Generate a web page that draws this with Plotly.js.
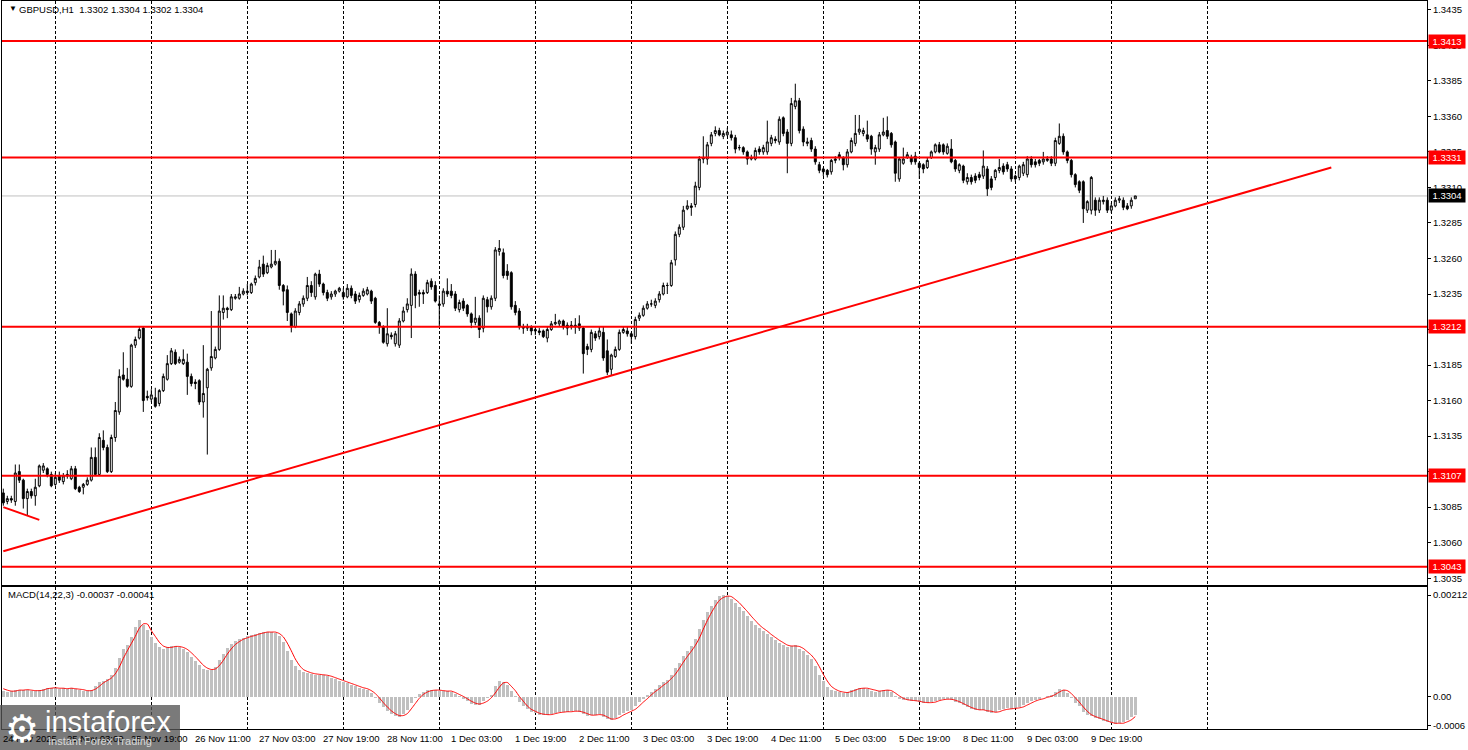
<!DOCTYPE html>
<html><head><meta charset="utf-8">
<script src="https://cdn.plot.ly/plotly-3.0.1.min.js"></script>
<style>html,body{margin:0;padding:0;background:#fff;overflow:hidden}#chart{width:1468px;height:750px}</style>
</head><body><div id="chart"></div>
<script>
const symbolName = "GBPUSD,H1";
const open = [
1.3095,1.3089,1.3091,1.3089,1.3110,1.3104,1.3091,1.3096,1.3093,1.3100,
1.3111,1.3112,1.3108,1.3101,1.3107,1.3103,1.3107,1.3105,1.3112,1.3099,
1.3099,1.3101,1.3104,1.3120,1.3108,1.3132,1.3127,1.3110,1.3134,1.3152,
1.3178,1.3175,1.3170,1.3199,1.3204,1.3211,1.3163,1.3161,1.3162,1.3158,
1.3167,1.3175,1.3186,1.3194,1.3187,1.3186,1.3187,1.3177,1.3173,1.3174,
1.3159,1.3169,1.3183,1.3190,1.3196,1.3222,1.3225,1.3224,1.3232,1.3232,
1.3235,1.3237,1.3236,1.3243,1.3247,1.3256,1.3250,1.3254,1.3256,1.3258,
1.3241,1.3238,1.3221,1.3212,1.3222,1.3228,1.3232,1.3241,1.3233,1.3249,
1.3242,1.3236,1.3233,1.3235,1.3237,1.3236,1.3233,1.3239,1.3235,1.3231,
1.3234,1.3235,1.3237,1.3232,1.3215,1.3212,1.3200,1.3206,1.3200,1.3199,
1.3216,1.3224,1.3227,1.3249,1.3236,1.3236,1.3236,1.3244,1.3241,1.3228,
1.3228,1.3237,1.3237,1.3235,1.3224,1.3230,1.3227,1.3221,1.3215,1.3218,
1.3211,1.3231,1.3226,1.3232,1.3265,1.3264,1.3251,1.3250,1.3227,1.3223,
1.3212,1.3211,1.3212,1.3210,1.3209,1.3209,1.3204,1.3210,1.3214,1.3214,
1.3216,1.3213,1.3213,1.3212,1.3214,1.3211,1.3198,1.3196,1.3207,1.3205,
1.3208,1.3195,1.3182,1.3191,1.3196,1.3208,1.3209,1.3207,1.3205,1.3218,
1.3220,1.3225,1.3228,1.3227,1.3231,1.3235,1.3241,1.3241,1.3259,1.3277,
1.3282,1.3295,1.3297,1.3298,1.3310,1.3330,1.3330,1.3341,1.3348,1.3350,
1.3346,1.3347,1.3347,1.3345,1.3338,1.3338,1.3335,1.3330,1.3330,1.3337,
1.3335,1.3335,1.3341,1.3344,1.3342,1.3359,1.3349,1.3341,1.3367,1.3371,
1.3351,1.3341,1.3343,1.3337,1.3326,1.3323,1.3322,1.3321,1.3329,1.3333,
1.3331,1.3326,1.3335,1.3341,1.3349,1.3348,1.3347,1.3346,1.3335,1.3337,
1.3347,1.3350,1.3348,1.3342,1.3316,1.3327,1.3331,1.3331,1.3332,1.3327,
1.3326,1.3324,1.3331,1.3335,1.3340,1.3340,1.3334,1.3337,1.3329,1.3322,
1.3325,1.3314,1.3317,1.3318,1.3319,1.3318,1.3323,1.3316,1.3317,1.3322,
1.3325,1.3326,1.3323,1.3318,1.3317,1.3320,1.3319,1.3330,1.3328,1.3329,
1.3328,1.3329,1.3330,1.3327,1.3341,1.3346,1.3335,1.3329,1.3319,1.3314,
1.3314,1.3294,1.3294,1.3301,1.3294,1.3300,1.3301,1.3294,1.3297,1.3301,
1.3301,1.3297,1.3297,1.3302];
const high = [
1.3098,1.3093,1.3093,1.3115,1.3115,1.3105,1.3098,1.3098,1.3105,1.3115,
1.3116,1.3113,1.3110,1.3109,1.3110,1.3109,1.3111,1.3114,1.3114,1.3100,
1.3102,1.3106,1.3127,1.3127,1.3137,1.3139,1.3129,1.3136,1.3159,1.3182,
1.3194,1.3183,1.3200,1.3205,1.3212,1.3212,1.3167,1.3168,1.3169,1.3168,
1.3179,1.3192,1.3197,1.3196,1.3191,1.3196,1.3193,1.3179,1.3175,1.3175,
1.3199,1.3183,1.3223,1.3198,1.3234,1.3234,1.3226,1.3235,1.3235,1.3240,
1.3239,1.3242,1.3243,1.3248,1.3259,1.3262,1.3257,1.3266,1.3266,1.3260,
1.3242,1.3241,1.3222,1.3225,1.3230,1.3234,1.3247,1.3244,1.3250,1.3252,
1.3243,1.3238,1.3237,1.3238,1.3240,1.3239,1.3242,1.3241,1.3237,1.3236,
1.3239,1.3240,1.3238,1.3233,1.3216,1.3213,1.3225,1.3208,1.3209,1.3218,
1.3226,1.3232,1.3253,1.3251,1.3238,1.3238,1.3245,1.3246,1.3244,1.3234,
1.3239,1.3246,1.3242,1.3237,1.3231,1.3232,1.3228,1.3222,1.3233,1.3220,
1.3234,1.3233,1.3234,1.3268,1.3273,1.3267,1.3256,1.3251,1.3230,1.3225,
1.3214,1.3214,1.3213,1.3212,1.3211,1.3210,1.3212,1.3216,1.3221,1.3217,
1.3217,1.3215,1.3216,1.3218,1.3220,1.3212,1.3200,1.3210,1.3209,1.3212,
1.3212,1.3203,1.3193,1.3198,1.3210,1.3212,1.3212,1.3208,1.3219,1.3222,
1.3227,1.3230,1.3231,1.3232,1.3237,1.3243,1.3243,1.3259,1.3279,1.3284,
1.3297,1.3301,1.3299,1.3314,1.3332,1.3346,1.3342,1.3349,1.3353,1.3352,
1.3350,1.3352,1.3350,1.3347,1.3340,1.3339,1.3336,1.3333,1.3338,1.3339,
1.3340,1.3357,1.3347,1.3346,1.3360,1.3360,1.3351,1.3373,1.3383,1.3373,
1.3353,1.3345,1.3345,1.3339,1.3328,1.3324,1.3323,1.3330,1.3332,1.3335,
1.3332,1.3337,1.3345,1.3361,1.3361,1.3352,1.3357,1.3347,1.3340,1.3349,
1.3359,1.3360,1.3349,1.3343,1.3331,1.3338,1.3335,1.3333,1.3335,1.3328,
1.3327,1.3331,1.3336,1.3341,1.3342,1.3341,1.3341,1.3344,1.3330,1.3327,
1.3326,1.3320,1.3319,1.3320,1.3321,1.3336,1.3325,1.3318,1.3323,1.3330,
1.3327,1.3328,1.3325,1.3319,1.3326,1.3328,1.3332,1.3332,1.3330,1.3330,
1.3335,1.3332,1.3332,1.3345,1.3355,1.3348,1.3336,1.3330,1.3320,1.3315,
1.3315,1.3301,1.3318,1.3303,1.3303,1.3304,1.3303,1.3299,1.3303,1.3304,
1.3303,1.3299,1.3303,1.3304];
const low = [
1.3086,1.3087,1.3088,1.3086,1.3102,1.3084,1.3079,1.3091,1.3086,1.3099,
1.3109,1.3106,1.3099,1.3100,1.3102,1.3101,1.3105,1.3104,1.3097,1.3095,
1.3094,1.3100,1.3103,1.3107,1.3107,1.3125,1.3109,1.3109,1.3131,1.3150,
1.3174,1.3169,1.3169,1.3197,1.3203,1.3152,1.3160,1.3159,1.3155,1.3156,
1.3166,1.3174,1.3185,1.3185,1.3186,1.3185,1.3164,1.3170,1.3168,1.3157,
1.3148,1.3122,1.3181,1.3189,1.3195,1.3217,1.3218,1.3223,1.3231,1.3231,
1.3234,1.3234,1.3235,1.3241,1.3246,1.3247,1.3249,1.3253,1.3255,1.3238,
1.3227,1.3216,1.3208,1.3211,1.3220,1.3226,1.3230,1.3233,1.3231,1.3240,
1.3234,1.3230,1.3231,1.3233,1.3236,1.3231,1.3232,1.3232,1.3228,1.3229,
1.3233,1.3234,1.3228,1.3214,1.3207,1.3200,1.3198,1.3203,1.3198,1.3197,
1.3215,1.3222,1.3204,1.3225,1.3226,1.3228,1.3235,1.3238,1.3229,1.3212,
1.3226,1.3233,1.3232,1.3223,1.3222,1.3223,1.3219,1.3211,1.3213,1.3204,
1.3208,1.3222,1.3224,1.3230,1.3262,1.3246,1.3245,1.3224,1.3220,1.3210,
1.3207,1.3209,1.3206,1.3206,1.3206,1.3204,1.3201,1.3209,1.3213,1.3212,
1.3210,1.3206,1.3210,1.3207,1.3209,1.3179,1.3192,1.3194,1.3202,1.3203,
1.3188,1.3178,1.3178,1.3190,1.3195,1.3207,1.3205,1.3200,1.3203,1.3216,
1.3219,1.3224,1.3226,1.3225,1.3229,1.3234,1.3235,1.3240,1.3255,1.3275,
1.3280,1.3294,1.3290,1.3296,1.3308,1.3327,1.3326,1.3339,1.3346,1.3346,
1.3344,1.3346,1.3343,1.3334,1.3336,1.3333,1.3326,1.3329,1.3329,1.3333,
1.3333,1.3333,1.3339,1.3341,1.3340,1.3346,1.3320,1.3339,1.3365,1.3348,
1.3339,1.3339,1.3335,1.3326,1.3320,1.3318,1.3317,1.3319,1.3327,1.3329,
1.3322,1.3324,1.3334,1.3339,1.3347,1.3346,1.3342,1.3333,1.3326,1.3335,
1.3346,1.3344,1.3338,1.3314,1.3314,1.3326,1.3330,1.3326,1.3326,1.3316,
1.3320,1.3323,1.3330,1.3334,1.3334,1.3333,1.3333,1.3327,1.3321,1.3320,
1.3313,1.3312,1.3312,1.3313,1.3315,1.3316,1.3304,1.3308,1.3315,1.3320,
1.3319,1.3321,1.3314,1.3314,1.3315,1.3318,1.3317,1.3324,1.3324,1.3325,
1.3326,1.3328,1.3325,1.3325,1.3340,1.3333,1.3327,1.3317,1.3310,1.3306,
1.3285,1.3292,1.3291,1.3290,1.3292,1.3298,1.3292,1.3292,1.3296,1.3299,
1.3294,1.3294,1.3295,1.3302];
const close = [
1.3088,1.3091,1.3090,1.3109,1.3104,1.3091,1.3096,1.3093,1.3099,1.3114,
1.3114,1.3108,1.3100,1.3106,1.3104,1.3107,1.3108,1.3112,1.3098,1.3096,
1.3101,1.3104,1.3120,1.3108,1.3134,1.3127,1.3110,1.3134,1.3153,1.3177,
1.3175,1.3170,1.3199,1.3203,1.3210,1.3160,1.3162,1.3164,1.3156,1.3167,
1.3177,1.3186,1.3195,1.3186,1.3189,1.3189,1.3177,1.3172,1.3172,1.3159,
1.3165,1.3182,1.3191,1.3196,1.3223,1.3225,1.3224,1.3233,1.3233,1.3235,
1.3237,1.3236,1.3242,1.3246,1.3254,1.3249,1.3255,1.3256,1.3258,1.3241,
1.3237,1.3222,1.3212,1.3223,1.3228,1.3232,1.3241,1.3236,1.3249,1.3242,
1.3236,1.3232,1.3235,1.3237,1.3239,1.3233,1.3239,1.3234,1.3230,1.3234,
1.3237,1.3238,1.3230,1.3215,1.3212,1.3201,1.3207,1.3205,1.3207,1.3216,
1.3223,1.3228,1.3249,1.3234,1.3235,1.3235,1.3243,1.3240,1.3230,1.3227,
1.3237,1.3235,1.3234,1.3225,1.3229,1.3225,1.3221,1.3215,1.3218,1.3210,
1.3232,1.3226,1.3232,1.3266,1.3267,1.3248,1.3248,1.3226,1.3222,1.3212,
1.3211,1.3212,1.3209,1.3209,1.3208,1.3205,1.3210,1.3214,1.3215,1.3216,
1.3212,1.3211,1.3212,1.3213,1.3211,1.3193,1.3196,1.3208,1.3204,1.3209,
1.3190,1.3180,1.3192,1.3196,1.3208,1.3210,1.3207,1.3205,1.3217,1.3220,
1.3225,1.3228,1.3228,1.3230,1.3235,1.3241,1.3241,1.3257,1.3277,1.3282,
1.3294,1.3297,1.3296,1.3311,1.3330,1.3331,1.3340,1.3347,1.3350,1.3347,
1.3348,1.3349,1.3345,1.3337,1.3338,1.3335,1.3330,1.3331,1.3336,1.3335,
1.3338,1.3342,1.3345,1.3343,1.3358,1.3348,1.3341,1.3369,1.3371,1.3350,
1.3342,1.3342,1.3337,1.3328,1.3322,1.3321,1.3319,1.3329,1.3330,1.3331,
1.3326,1.3335,1.3343,1.3348,1.3351,1.3350,1.3344,1.3337,1.3338,1.3347,
1.3349,1.3346,1.3340,1.3320,1.3330,1.3330,1.3333,1.3328,1.3328,1.3324,
1.3323,1.3329,1.3335,1.3340,1.3335,1.3335,1.3339,1.3328,1.3323,1.3326,
1.3315,1.3317,1.3314,1.3315,1.3317,1.3325,1.3309,1.3310,1.3322,1.3324,
1.3321,1.3323,1.3316,1.3316,1.3325,1.3326,1.3330,1.3326,1.3326,1.3327,
1.3330,1.3330,1.3327,1.3343,1.3346,1.3335,1.3329,1.3319,1.3312,1.3308,
1.3295,1.3300,1.3317,1.3294,1.3301,1.3301,1.3294,1.3297,1.3301,1.3302,
1.3296,1.3295,1.3301,1.3304];
const macdHist = [
0.00012,0.00010,0.00012,0.00014,0.00015,0.00014,0.00015,0.00013,0.00012,0.00014,
0.00017,0.00019,0.00019,0.00018,0.00017,0.00018,0.00017,0.00018,0.00016,0.00015,
0.00013,0.00012,0.00015,0.00022,0.00030,0.00034,0.00038,0.00045,0.00060,0.00080,
0.00099,0.00108,0.00125,0.00145,0.00160,0.00150,0.00140,0.00125,0.00113,0.00104,
0.00100,0.00104,0.00106,0.00106,0.00104,0.00100,0.00093,0.00084,0.00074,0.00066,
0.00059,0.00055,0.00056,0.00062,0.00076,0.00090,0.00101,0.00110,0.00116,0.00120,
0.00123,0.00126,0.00128,0.00131,0.00134,0.00135,0.00136,0.00135,0.00133,0.00127,
0.00115,0.00095,0.00077,0.00064,0.00056,0.00052,0.00050,0.00048,0.00046,0.00046,
0.00045,0.00043,0.00040,0.00037,0.00034,0.00031,0.00028,0.00025,0.00022,0.00019,
0.00017,0.00014,0.00008,-0.00002,-0.00012,-0.00022,-0.00030,-0.00036,-0.00040,-0.00041,
-0.00036,-0.00028,-0.00012,-0.00002,0.00006,0.00010,0.00014,0.00015,0.00014,0.00012,
0.00013,0.00012,0.00010,0.00005,0.00001,-0.00004,-0.00008,-0.00014,-0.00016,-0.00016,
-0.00008,-0.00002,0.00004,0.00022,0.00034,0.00030,0.00025,0.00012,0.00002,-0.00010,
-0.00020,-0.00026,-0.00031,-0.00034,-0.00037,-0.00038,-0.00037,-0.00035,-0.00033,-0.00031,
-0.00031,-0.00031,-0.00030,-0.00030,-0.00031,-0.00036,-0.00039,-0.00038,-0.00037,-0.00036,
-0.00042,-0.00047,-0.00048,-0.00044,-0.00038,-0.00033,-0.00030,-0.00028,-0.00019,-0.00011,
-0.00004,0.00004,0.00011,0.00017,0.00024,0.00031,0.00036,0.00046,0.00060,0.00071,
0.00085,0.00096,0.00105,0.00120,0.00142,0.00160,0.00176,0.00190,0.00202,0.00210,
0.00212,0.00210,0.00204,0.00196,0.00187,0.00178,0.00168,0.00158,0.00150,0.00143,
0.00137,0.00130,0.00124,0.00118,0.00112,0.00109,0.00104,0.00106,0.00108,0.00100,
0.00095,0.00088,0.00078,0.00064,0.00046,0.00032,0.00020,0.00015,0.00012,0.00010,
0.00008,0.00010,0.00014,0.00017,0.00019,0.00019,0.00017,0.00013,0.00011,0.00013,
0.00015,0.00014,0.00010,0.00001,-0.00004,-0.00006,-0.00007,-0.00008,-0.00009,-0.00011,
-0.00013,-0.00013,-0.00011,-0.00008,-0.00006,-0.00005,-0.00004,-0.00006,-0.00010,-0.00013,
-0.00018,-0.00022,-0.00025,-0.00027,-0.00028,-0.00027,-0.00031,-0.00033,-0.00031,-0.00028,
-0.00026,-0.00024,-0.00025,-0.00024,-0.00021,-0.00017,-0.00012,-0.00009,-0.00006,-0.00004,
-0.00001,0.00002,0.00003,0.00010,0.00017,0.00014,0.00008,-0.00002,-0.00012,-0.00020,
-0.00032,-0.00038,-0.00040,-0.00044,-0.00047,-0.00050,-0.00053,-0.00055,-0.00056,-0.00055,
-0.00053,-0.00049,-0.00042,-0.00037];
const macdSignal = [
0.00017,0.00014,0.00012,0.00012,0.00014,0.00014,0.00015,0.00014,0.00013,0.00013,
0.00014,0.00017,0.00018,0.00019,0.00018,0.00018,0.00017,0.00018,0.00017,0.00016,
0.00015,0.00013,0.00013,0.00016,0.00022,0.00029,0.00034,0.00039,0.00048,0.00062,
0.00080,0.00096,0.00111,0.00126,0.00143,0.00152,0.00152,0.00138,0.00126,0.00114,
0.00106,0.00103,0.00103,0.00105,0.00105,0.00103,0.00099,0.00092,0.00084,0.00075,
0.00066,0.00060,0.00057,0.00058,0.00065,0.00076,0.00089,0.00100,0.00109,0.00115,
0.00120,0.00123,0.00126,0.00128,0.00131,0.00133,0.00135,0.00135,0.00135,0.00132,
0.00125,0.00112,0.00096,0.00079,0.00066,0.00057,0.00053,0.00050,0.00048,0.00047,
0.00046,0.00045,0.00043,0.00040,0.00037,0.00034,0.00031,0.00028,0.00025,0.00022,
0.00019,0.00017,0.00013,0.00007,-0.00002,-0.00012,-0.00021,-0.00029,-0.00035,-0.00039,
-0.00039,-0.00035,-0.00025,-0.00014,-0.00003,0.00005,0.00010,0.00013,0.00014,0.00014,
0.00013,0.00012,0.00012,0.00009,0.00005,0.00001,-0.00004,-0.00009,-0.00013,-0.00015,
-0.00013,-0.00009,-0.00002,0.00008,0.00020,0.00029,0.00030,0.00022,0.00013,0.00001,
-0.00009,-0.00019,-0.00026,-0.00030,-0.00034,-0.00036,-0.00037,-0.00037,-0.00035,-0.00033,
-0.00032,-0.00031,-0.00031,-0.00030,-0.00030,-0.00032,-0.00035,-0.00038,-0.00038,-0.00037,
-0.00038,-0.00042,-0.00046,-0.00046,-0.00043,-0.00038,-0.00034,-0.00030,-0.00026,-0.00019,
-0.00011,-0.00004,0.00004,0.00011,0.00017,0.00024,0.00030,0.00038,0.00047,0.00059,
0.00072,0.00084,0.00095,0.00107,0.00122,0.00141,0.00159,0.00175,0.00189,0.00201,
0.00207,0.00210,0.00209,0.00203,0.00196,0.00187,0.00178,0.00168,0.00159,0.00150,
0.00143,0.00137,0.00130,0.00124,0.00118,0.00113,0.00108,0.00106,0.00106,0.00105,
0.00101,0.00094,0.00087,0.00077,0.00063,0.00047,0.00033,0.00022,0.00016,0.00012,
0.00010,0.00009,0.00011,0.00014,0.00017,0.00018,0.00018,0.00016,0.00014,0.00012,
0.00013,0.00014,0.00013,0.00008,0.00002,-0.00003,-0.00006,-0.00007,-0.00008,-0.00009,
-0.00011,-0.00012,-0.00012,-0.00011,-0.00008,-0.00006,-0.00005,-0.00005,-0.00007,-0.00010,
-0.00014,-0.00018,-0.00022,-0.00025,-0.00027,-0.00027,-0.00029,-0.00030,-0.00032,-0.00031,
-0.00028,-0.00026,-0.00025,-0.00024,-0.00023,-0.00021,-0.00017,-0.00013,-0.00009,-0.00006,
-0.00004,-0.00001,0.00001,0.00005,0.00010,0.00014,0.00013,0.00007,-0.00002,-0.00011,
-0.00021,-0.00030,-0.00037,-0.00041,-0.00044,-0.00047,-0.00050,-0.00053,-0.00055,-0.00055,
-0.00055,-0.00052,-0.00048,-0.00041];
const levels = [1.3413, 1.3331, 1.3212, 1.3107, 1.3043];
const lastPrice = 1.3304;
const trendX = [0, 332];
const trendY = [1.3054, 1.3324];
const wedgeX = [0, 9];
const wedgeY = [1.3085, 1.3076];
const timeLabelBars = [0,16,32,48,64,80,96,112,128,144,160,176,192,208,224,240,256,272];
const timeLabels = ["24 Nov 2025","25 Nov 03:00","25 Nov 19:00","26 Nov 11:00","27 Nov 03:00","27 Nov 19:00","28 Nov 11:00","1 Dec 03:00","1 Dec 19:00","2 Dec 11:00","3 Dec 03:00","3 Dec 19:00","4 Dec 11:00","5 Dec 03:00","5 Dec 19:00","8 Dec 11:00","9 Dec 03:00","9 Dec 19:00"];
const gridBars = [13,37,61,85,109,133,157,181,205,229,253,277,301];
const priceTicks = [1.3035,1.3060,1.3085,1.3110,1.3135,1.3160,1.3185,1.3210,1.3235,1.3260,1.3285,1.3310,1.3335,1.3360,1.3385,1.3410,1.3435];
const macdTicks = [0.00212, 0, -0.0006];
const macdTickText = ["0.00212", "0.00", "-0.0006"];

const bars = close.map((_, i) => i);
const n = close.length - 1;
const FONT = "Liberation Sans, Arial, sans-serif";
const FS = 9.5;

const xRange = [-0.325, 355.925];
const baseX = {
  range: xRange, showticklabels: false, ticks: "", tickmode: "array", tickvals: gridBars,
  showgrid: true, gridcolor: "#000", gridwidth: 1, griddash: "3px,2px",
  showline: true, mirror: true, linecolor: "#000", linewidth: 1, zeroline: false,
  fixedrange: true
};

const traces = [
  {type: "candlestick", x: bars, open: open, high: high, low: low, close: close,
   xaxis: "x", yaxis: "y", whiskerwidth: 0, hoverinfo: "skip",
   increasing: {line: {color: "#000", width: 1}, fillcolor: "#ffffff"},
   decreasing: {line: {color: "#000", width: 1}, fillcolor: "#000000"}},
  {type: "scatter", mode: "lines", x: trendX, y: trendY, xaxis: "x", yaxis: "y",
   line: {color: "#ff0000", width: 2}, hoverinfo: "skip"},
  {type: "scatter", mode: "lines", x: wedgeX, y: wedgeY, xaxis: "x", yaxis: "y",
   line: {color: "#ff0000", width: 2}, hoverinfo: "skip"},
  {type: "bar", x: bars, y: macdHist, xaxis: "x2", yaxis: "y2", width: 0.75,
   marker: {color: "#c0c0c0", line: {width: 0}}, hoverinfo: "skip"},
  {type: "scatter", mode: "lines", x: bars, y: macdSignal, xaxis: "x2", yaxis: "y2",
   line: {color: "#ff0000", width: 1, shape: "spline", smoothing: 0.6}, hoverinfo: "skip"}
];

const shapes = [];
shapes.push({type: "line", xref: "paper", x0: 0, x1: 1, yref: "y", y0: lastPrice, y1: lastPrice,
  line: {color: "#c0c0c0", width: 1}, layer: "below"});
levels.forEach(v => shapes.push({type: "line", xref: "paper", x0: 0, x1: 1, yref: "y", y0: v, y1: v,
  line: {color: "#ff0000", width: 2}}));
shapes.push({type: "rect", xref: "paper", yref: "paper", x0: -0.0014, x1: 0.1249, y0: -0.0288, y1: 0.033,
  fillcolor: "rgba(85,85,85,0.78)", line: {width: 0}, layer: "above"});

const annotations = [];
levels.forEach(v => annotations.push({xref: "paper", x: 1, xanchor: "left", xshift: 1, yref: "y", y: v,
  yanchor: "middle", text: v.toFixed(4), showarrow: false, bgcolor: "#ff0000", width: 34, height: 11,
  borderpad: 1, font: {family: FONT, size: FS, color: "#ffffff"}}));
annotations.push({xref: "paper", x: 1, xanchor: "left", xshift: 1, yref: "y", y: lastPrice,
  yanchor: "middle", text: lastPrice.toFixed(4), showarrow: false, bgcolor: "#000000", width: 34, height: 11,
  borderpad: 1, font: {family: FONT, size: FS, color: "#ffffff"}});
timeLabelBars.forEach((b, k) => annotations.push({xref: "x2", x: b, xanchor: "left", xshift: -2,
  yref: "paper", y: 0, yanchor: "top", yshift: -2, text: timeLabels[k], showarrow: false,
  font: {family: FONT, size: FS, color: "#000"}}));
annotations.push({xref: "paper", yref: "paper", x: 0.0035, y: 0.9985, xanchor: "left", yanchor: "top",
  text: "\u25BC", showarrow: false, font: {family: FONT, size: 8, color: "#000"}});
annotations.push({xref: "paper", yref: "paper", x: 0.0105, y: 0.9985, xanchor: "left", yanchor: "top",
  text: symbolName + "\u00a0\u00a0" + [open[n], high[n], low[n], close[n]].map(v => v.toFixed(4)).join(" "),
  showarrow: false, font: {family: FONT, size: FS, color: "#000"}});
annotations.push({xref: "paper", yref: "paper", x: 0.003, y: 0.1945, xanchor: "left", yanchor: "top",
  text: "MACD(14,22,3) " + macdHist[n].toFixed(5) + " " + macdSignal[n].toFixed(5),
  showarrow: false, font: {family: FONT, size: FS, color: "#000"}});
annotations.push({xref: "paper", yref: "paper", x: 0.0008, y: 0.033, xanchor: "left", yanchor: "top",
  text: "\u2699", showarrow: false, font: {family: "DejaVu Sans", size: 38, color: "#ffffff"}});
annotations.push({xref: "paper", yref: "paper", x: 0.029, y: 0.034, xanchor: "left", yanchor: "top",
  text: "instaforex", showarrow: false, font: {family: FONT, size: 29, color: "#ffffff"}});
annotations.push({xref: "paper", yref: "paper", x: 0.031, y: -0.005, xanchor: "left", yanchor: "top",
  text: "Instant Forex Trading", showarrow: false, font: {family: FONT, size: 11, color: "#d8d8d8"}});

const yCommon = {side: "right", tickmode: "array", ticks: "outside", ticklen: 3, tickcolor: "#000",
  tickfont: {family: FONT, size: FS, color: "#000"}, showgrid: false, showline: true, mirror: true,
  linecolor: "#000", zeroline: false, fixedrange: true};

const layout = {
  width: 1468, height: 750,
  margin: {l: 2, r: 41, t: 1, b: 21, pad: 0},
  paper_bgcolor: "#ffffff", plot_bgcolor: "#ffffff",
  showlegend: false, bargap: 0,
  font: {family: FONT, size: FS, color: "#000"},
  xaxis: Object.assign({}, baseX, {anchor: "y", rangeslider: {visible: false}}),
  xaxis2: Object.assign({}, baseX, {anchor: "y2"}),
  yaxis: Object.assign({}, yCommon, {domain: [0.1978, 1], range: [1.30302, 1.34412], anchor: "x",
    tickvals: priceTicks, ticktext: priceTicks.map(v => v.toFixed(4))}),
  yaxis2: Object.assign({}, yCommon, {domain: [0, 0.1951], range: [-0.00067, 0.00229], anchor: "x2",
    tickvals: macdTicks, ticktext: macdTickText}),
  shapes: shapes,
  annotations: annotations
};

Plotly.newPlot("chart", traces, layout, {staticPlot: true, displayModeBar: false});
</script>
</body></html>
